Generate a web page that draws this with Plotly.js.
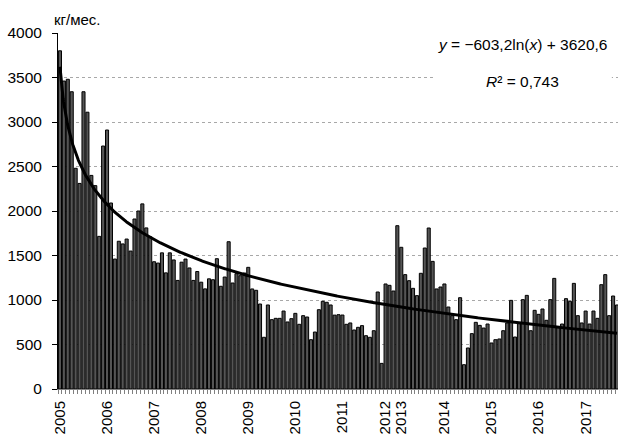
<!DOCTYPE html>
<html>
<head>
<meta charset="utf-8">
<script src="https://cdn.plot.ly/plotly-3.0.1.min.js"></script>
<style>html,body{margin:0;padding:0;background:#fff;}#chart{width:618px;height:435px;}</style>
</head>
<body>
<div id="chart"></div>
<script>
// Monthly values, kg/month (one bar per month)
const monthlyValues = [
  3800, 3460, 3480, 3340, 2480, 2310, 3340, 3110, 2400, 2285, 1715, 2730,
  2910, 2090, 1460, 1660, 1630, 1685, 1550, 1910, 2000, 2080, 1810, 1710,
  1430, 1415, 1530, 1305, 1530, 1450, 1220, 1425, 1460, 1360, 1220, 1320,
  1200, 1125, 1238, 1228, 1464, 1154, 1258, 1655, 1191, 1296, 1273, 1303,
  1367, 1124, 1109, 955, 581, 944, 779, 794, 794, 876, 753, 790,
  850, 727, 824, 809, 554, 640, 891, 985, 974, 944, 830, 835,
  831, 727, 742, 663, 693, 712, 599, 581, 655, 1090, 288,
  1180, 1165, 1101, 1835,
  1592, 1285, 1217, 1131, 1049, 1300, 1584, 1809, 1434, 1124, 1146,
  1180, 921, 824, 779, 1026, 273, 461, 622, 749, 715, 685, 730,
  517, 554, 562, 655, 742, 996, 584, 735, 1004, 1052, 655, 884,
  839, 899, 772, 1004, 1243, 693, 730, 1015, 985, 1187, 824, 742,
  876, 730, 876, 794, 1172, 1285, 824, 1045, 944
];
// Year labels and the bar index they sit under
const yearLabels = ["2005","2006","2007","2008","2009","2010","2011","2012","2013","2014","2015","2016","2017"];
const yearLabelIndex = [0, 12, 24, 36, 48, 60, 72, 83, 87, 98, 110, 122, 134];
// Logarithmic trend line coefficients shown on the chart: y = a*ln(x) + b
const trendA = -603.2;
const trendB = 3620.6;

const barX = monthlyValues.map((v, i) => i);

// Trend line sampled along the category axis (x = 1 for first month)
const trendX = [], trendY = [];
for (let t = 1; t <= monthlyValues.length + 0.001; t += 0.1) {
  trendX.push(t - 1);
  trendY.push(trendA * Math.log(t) + trendB);
}

const font = "Liberation Sans, Arial, sans-serif";

const data = [
  {
    type: 'bar', x: barX, y: monthlyValues,
    marker: {color: '#555555', line: {color: '#000', width: 1}},
    hoverinfo: 'y'
  },
  {
    type: 'scatter', mode: 'lines', x: trendX, y: trendY,
    line: {color: '#000', width: 3}, hoverinfo: 'skip'
  }
];

const layout = {
  width: 618, height: 435,
  margin: {l: 58, r: 0, t: 33, b: 46},
  paper_bgcolor: '#fff', plot_bgcolor: '#fff',
  showlegend: false,
  bargap: 0.22,
  font: {family: font, size: 15, color: '#000'},
  xaxis: {
    type: 'linear', range: [-0.5, 142.25],
    tickmode: 'array', tickvals: yearLabelIndex, ticktext: yearLabels,
    tickangle: -90, ticks: 'outside', ticklen: 5, tickcolor: 'rgba(0,0,0,0)',
    tickfont: {family: font, size: 15, color: '#000'},
    showgrid: false, zeroline: false,
    showline: true, linecolor: '#808080', linewidth: 1,
    minor: {tickmode: 'linear', tick0: -0.5, dtick: 1, ticks: 'outside', ticklen: 4, tickcolor: '#808080', showgrid: false}
  },
  yaxis: {
    range: [0, 4000], dtick: 500, tick0: 0,
    ticks: 'outside', ticklen: 5, tickcolor: '#000',
    ticklabelstandoff: 7,
    tickfont: {family: font, size: 15.5, color: '#000'},
    showgrid: true, gridcolor: '#a8a8a8', gridwidth: 1, griddash: 'dot',
    zeroline: false, showline: true, linecolor: '#000', linewidth: 1
  },
  shapes: [
    {type: 'rect', xref: 'paper', yref: 'y', x0: 0.6696, x1: 0.989, y0: 3200, y1: 3950,
     fillcolor: '#fff', line: {width: 0}, layer: 'above'}
  ],
  annotations: [
    {text: 'кг/мес.', xref: 'paper', yref: 'paper', x: -0.011, y: 1.037,
     xanchor: 'left', yanchor: 'middle', showarrow: false,
     font: {family: font, size: 15, color: '#000'}},
    {text: '<i>y</i> = −603,2ln(<i>x</i>) + 3620,6', xref: 'paper', yref: 'paper', x: 0.830, y: 0.967,
     xanchor: 'center', yanchor: 'middle', showarrow: false,
     font: {family: font, size: 15.5, color: '#000'}},
    {text: '<i>R</i>² = 0,743', xref: 'paper', yref: 'paper', x: 0.830, y: 0.864,
     xanchor: 'center', yanchor: 'middle', showarrow: false,
     font: {family: font, size: 15.5, color: '#000'}}
  ]
};

Plotly.newPlot('chart', data, layout, {staticPlot: true, displayModeBar: false});
</script>
</body>
</html>
